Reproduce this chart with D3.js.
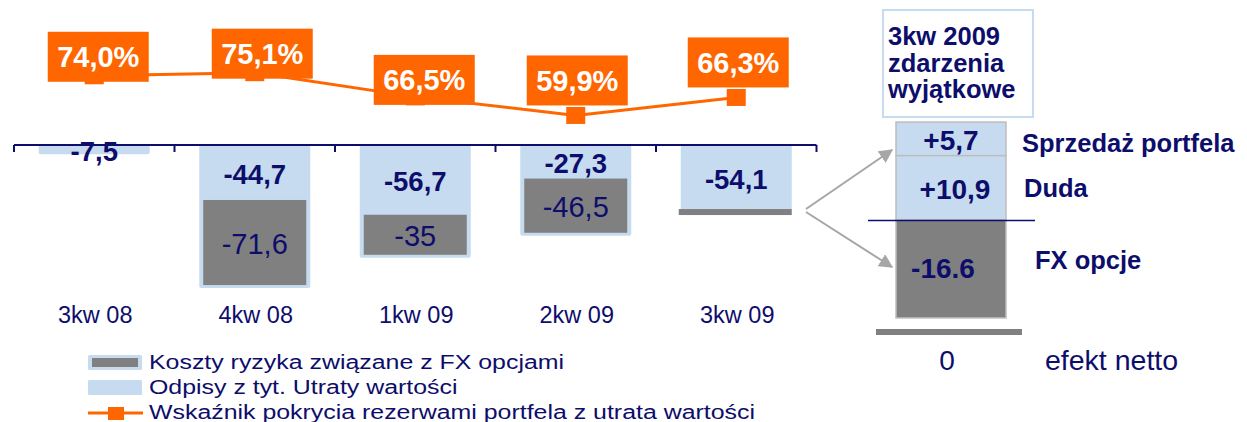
<!DOCTYPE html>
<html>
<head>
<meta charset="utf-8">
<script src="https://cdn.jsdelivr.net/npm/d3@7"></script>
<style>
  body { margin: 0; background: #fff; }
  svg { display: block; font-family: Arial, "Liberation Sans", sans-serif; }
</style>
</head>
<body>
<svg id="chart" width="1247" height="422"></svg>
<script>
// ---- data ----
const quarters   = ["3kw 08", "4kw 08", "1kw 09", "2kw 09", "3kw 09"];
const impairment = [-7.5, -44.7, -56.7, -27.3, -54.1];   // Odpisy z tyt. utraty wartości
const fxCost     = [null, -71.6, -35, -46.5, 0];          // Koszty ryzyka związane z FX opcjami
const coverage   = [74.0, 75.1, 66.5, 59.9, 66.3];        // Wskaźnik pokrycia (%)

const eventTitle   = ["3kw 2009", "zdarzenia", "wyjątkowe"];
const eventNames   = ["Sprzedaż portfela", "Duda", "FX opcje"];
const eventValues  = [5.7, 10.9, -16.6];
const eventDecimal = [",", ",", "."];
const netName      = "efekt netto";

const legendLabels = [
  "Koszty ryzyka związane z FX opcjami",
  "Odpisy z tyt. Utraty wartości",
  "Wskaźnik pokrycia rezerwami portfela z utrata wartości"
];

// ---- style ----
const NAVY = "#0d0d6b", LIGHT = "#c6dbef", GRAY = "#808080", ORANGE = "#ff6600";

const svg = d3.select("#chart");
const fmt = (v, sep = ",") => String(Math.abs(v)).replace(".", sep);

// ---- left chart scales ----
const x = d3.scaleBand().domain(quarters).range([14, 816.5]).padding(0);
const barW = 111;
const cx = q => x(q) + x.bandwidth() / 2;
const yBar = d3.scaleLinear().domain([0, -120]).range([145, 292.6]);
const yLine = d3.scaleLinear().domain([50, 80]).range([143.3, 58.9]);

const rows = quarters.map((q, i) => ({
  q, imp: impairment[i], fx: fxCost[i], cov: coverage[i],
  total: impairment[i] + (fxCost[i] || 0)
}));

// light blue bars (full height of the quarter's charge)
svg.append("g").selectAll("rect").data(rows).join("rect")
  .attr("x", d => cx(d.q) - barW / 2)
  .attr("width", barW)
  .attr("y", yBar(0))
  .attr("height", d => yBar(d.total) - yBar(0))
  .attr("rx", 2)
  .attr("fill", LIGHT);

// FX option cost segments
const fxRows = rows.filter(d => d.fx !== null);
svg.append("g").selectAll("rect").data(fxRows).join("rect")
  .attr("x", d => d.fx === 0 ? cx(d.q) - barW / 2 - 2 : cx(d.q) - barW / 2 + 4)
  .attr("width", d => d.fx === 0 ? barW + 2 : barW - 8)
  .attr("y", d => d.fx === 0 ? yBar(d.total) - 2.5 : yBar(d.imp))
  .attr("height", d => d.fx === 0 ? 6 : yBar(d.total) - yBar(d.imp) - 3)
  .attr("fill", GRAY);

// axis at zero with boundary ticks
const axis = svg.append("g").attr("stroke", NAVY).attr("stroke-width", 2);
axis.append("line")
  .attr("x1", x.range()[0]).attr("x2", x.range()[1])
  .attr("y1", yBar(0)).attr("y2", yBar(0));
const bounds = quarters.map(q => x(q)).concat([x.range()[1]]);
axis.selectAll("line.tick").data(bounds).join("line").attr("class", "tick")
  .attr("x1", d => d).attr("x2", d => d)
  .attr("y1", yBar(0)).attr("y2", yBar(0) + 7);

// impairment labels
svg.append("g").selectAll("text").data(rows).join("text")
  .attr("x", d => cx(d.q))
  .attr("y", d => (yBar(0) + yBar(d.imp)) / 2 + 1.5)
  .attr("dy", "0.35em")
  .attr("text-anchor", "middle")
  .attr("font-size", 27.5).attr("font-weight", "bold")
  .attr("fill", NAVY)
  .text(d => "-" + fmt(d.imp));

// FX cost labels
svg.append("g").selectAll("text").data(fxRows.filter(d => d.fx !== 0)).join("text")
  .attr("x", d => cx(d.q))
  .attr("y", d => (yBar(d.imp) + yBar(d.total)) / 2)
  .attr("dy", "0.35em")
  .attr("text-anchor", "middle")
  .attr("font-size", 29)
  .attr("fill", NAVY)
  .text(d => "-" + fmt(d.fx));

// category labels
svg.append("g").selectAll("text").data(quarters).join("text")
  .attr("x", d => cx(d) + 1)
  .attr("y", 323)
  .attr("text-anchor", "middle")
  .attr("font-size", 23.5)
  .attr("fill", NAVY)
  .text(d => d);

// coverage ratio line
svg.append("path").datum(rows)
  .attr("fill", "none").attr("stroke", ORANGE).attr("stroke-width", 3)
  .attr("d", d3.line().x(d => cx(d.q)).y(d => yLine(d.cov)));
svg.append("g").selectAll("rect").data(rows).join("rect")
  .attr("x", d => cx(d.q) - 9.5).attr("y", d => yLine(d.cov) - 8.5)
  .attr("width", 19).attr("height", 17)
  .attr("fill", ORANGE);

// value boxes for the line
const labelNudge = [[4, -19], [7.5, -19], [9, -17], [1.5, -35], [2, -35]];
const boxes = svg.append("g").selectAll("g").data(rows).join("g")
  .attr("transform", (d, i) =>
    `translate(${cx(d.q) + labelNudge[i][0]},${yLine(d.cov) + labelNudge[i][1]})`);
boxes.append("rect")
  .attr("x", -50.5).attr("y", -25).attr("width", 101).attr("height", 50)
  .attr("fill", ORANGE);
boxes.append("text")
  .attr("text-anchor", "middle").attr("dy", "0.35em")
  .attr("font-size", 29).attr("font-weight", "bold")
  .attr("fill", "#fff")
  .text(d => d.cov.toFixed(1).replace(".", ",") + "%");

// ---- right panel: one-off events in 3Q 2009 ----
const evX = 896, evW = 110;
const yEv = d3.scaleLinear().domain([0, -20]).range([220, 338]);

const title = svg.append("g");
title.append("rect")
  .attr("x", 883).attr("y", 10).attr("width", 150).attr("height", 107)
  .attr("fill", "#fff").attr("stroke", LIGHT).attr("stroke-width", 2);
title.selectAll("text").data(eventTitle).join("text")
  .attr("x", 888).attr("y", (d, i) => 45 + i * 26.5)
  .attr("font-size", 25.5).attr("font-weight", "bold").attr("fill", NAVY)
  .text(d => d);

// positive items stack downward from the top of the positive total,
// negative items stack downward from zero
let upCursor = d3.sum(eventValues.filter(v => v > 0)), down = 0;
const segs = eventValues.map((v, i) => {
  let top, bottom;
  if (v >= 0) { top = upCursor; bottom = upCursor - v; upCursor = bottom; }
  else { top = down; bottom = down + v; down = bottom; }
  return { v, name: eventNames[i], sep: eventDecimal[i], y0: yEv(top), y1: yEv(bottom) };
});

svg.append("g").selectAll("rect").data(segs).join("rect")
  .attr("x", evX).attr("width", evW)
  .attr("y", d => d.y0).attr("height", d => d.y1 - d.y0)
  .attr("fill", d => d.v >= 0 ? LIGHT : GRAY)
  .attr("stroke", "#bdbdbd").attr("stroke-width", 1.5);

svg.append("line")
  .attr("x1", 868).attr("x2", 1035)
  .attr("y1", yEv(0) + 0.5).attr("y2", yEv(0) + 0.5)
  .attr("stroke", NAVY).attr("stroke-width", 1.5);

const valueNudge = [[0, 1], [4, 1], [-8, -1]];
svg.append("g").selectAll("text").data(segs).join("text")
  .attr("x", (d, i) => evX + evW / 2 + valueNudge[i][0])
  .attr("y", (d, i) => (d.y0 + d.y1) / 2 + valueNudge[i][1])
  .attr("dy", "0.35em").attr("text-anchor", "middle")
  .attr("font-size", 28).attr("font-weight", "bold").attr("fill", NAVY)
  .text(d => (d.v >= 0 ? "+" : "-") + fmt(d.v, d.sep));

const nameNudge = [[1022, 4], [1024, 0], [1035, -9]];
svg.append("g").selectAll("text").data(segs).join("text")
  .attr("x", (d, i) => nameNudge[i][0])
  .attr("y", (d, i) => (d.y0 + d.y1) / 2 + nameNudge[i][1])
  .attr("dy", "0.35em")
  .attr("font-size", 25.5).attr("font-weight", "bold").attr("fill", NAVY)
  .text(d => d.name);

// net effect
const net = d3.sum(eventValues);
svg.append("rect")
  .attr("x", 876).attr("y", 329).attr("width", 146).attr("height", 6)
  .attr("fill", GRAY);
svg.append("text")
  .attr("x", 947).attr("y", 370).attr("text-anchor", "middle")
  .attr("font-size", 28).attr("fill", NAVY)
  .text(d3.format(".0f")(Math.abs(net) < 1e-9 ? 0 : net));
svg.append("text")
  .attr("x", 1045).attr("y", 370)
  .attr("font-size", 28.5).attr("fill", NAVY)
  .text(netName);

// arrows linking 3kw 09 to the breakdown
const defs = svg.append("defs");
defs.append("marker")
  .attr("id", "arrowHead").attr("viewBox", "0 0 10 10")
  .attr("refX", 9).attr("refY", 5)
  .attr("markerWidth", 7).attr("markerHeight", 7)
  .attr("markerUnits", "strokeWidth")
  .attr("orient", "auto")
  .append("path").attr("d", "M0,0 L10,5 L0,10 Z").attr("fill", "#a6a6a6");
[[806, 209, 892, 150], [806, 212, 892, 267]].forEach(([x1, y1, x2, y2]) => {
  svg.append("line")
    .attr("x1", x1).attr("y1", y1).attr("x2", x2).attr("y2", y2)
    .attr("stroke", "#a6a6a6").attr("stroke-width", 2)
    .attr("marker-end", "url(#arrowHead)");
});

// ---- legend ----
const lg = svg.append("g");
lg.append("rect").attr("x", 88).attr("y", 355).attr("width", 54).attr("height", 15).attr("rx", 1.5).attr("fill", LIGHT);
lg.append("rect").attr("x", 92).attr("y", 358).attr("width", 46).attr("height", 9).attr("fill", GRAY);
lg.append("rect").attr("x", 88).attr("y", 380).attr("width", 54).attr("height", 15).attr("rx", 1.5).attr("fill", LIGHT);
lg.append("line").attr("x1", 88).attr("x2", 143).attr("y1", 413).attr("y2", 413)
  .attr("stroke", ORANGE).attr("stroke-width", 3);
lg.append("rect").attr("x", 108).attr("y", 407).attr("width", 16).attr("height", 13).attr("fill", ORANGE);
// legend text is set in a horizontally stretched face
lg.selectAll("text").data(legendLabels).join("text")
  .attr("transform", (d, i) => `translate(149,${369 + i * 25}) scale(1.245,1)`)
  .attr("font-size", 20).attr("fill", NAVY)
  .text(d => d);
</script>
</body>
</html>
